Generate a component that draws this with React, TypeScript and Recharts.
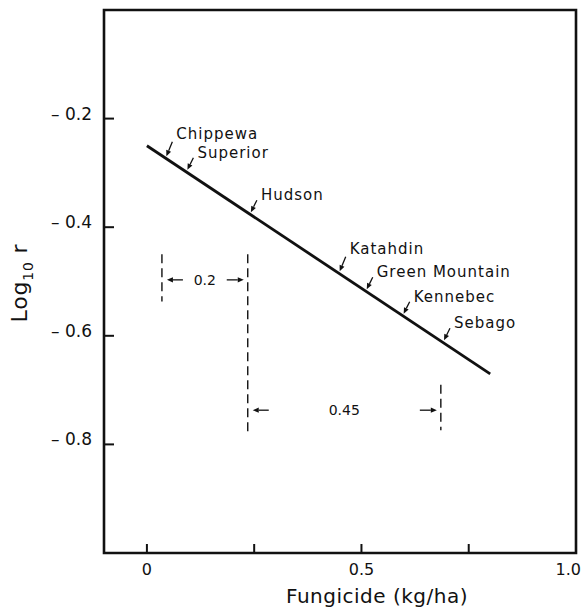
import React from 'react'
import {
  ComposedChart,
  Line,
  Scatter,
  XAxis,
  YAxis,
  ReferenceArea,
  ReferenceLine,
} from 'recharts'

// fitted regression line (end points)
const lineX = [0, 0.8]
const lineY = [-0.25, -0.67]

// potato varieties marked along the line
const varieties = ['Chippewa', 'Superior', 'Hudson', 'Katahdin', 'Green Mountain', 'Kennebec', 'Sebago']
const varietyX = [0.043, 0.092, 0.24, 0.447, 0.51, 0.596, 0.69]
const varietyY = [-0.273, -0.298, -0.376, -0.485, -0.518, -0.563, -0.612]

// dashed guide lines for the dimension marks
const guideX = [0.035, 0.235, 0.685]
const guideTop = [-0.45, -0.45, -0.69]
const guideBottom = [-0.537, -0.78, -0.774]

// dimension spans (between guide i and i+1)
const spanLabels = ['0.2', '0.45']
const spanY = [-0.497, -0.737]

const xTicks = [0, 0.25, 0.5, 0.75, 1.0]
const xTickLabels: Record<string, string> = { '0': '0', '0.5': '0.5', '1': '1.0' }
const yTicks = [-0.8, -0.6, -0.4, -0.2]

const FONT = '"DejaVu Sans", sans-serif'
const INK = '#111'
const raised = ['Chippewa', 'Katahdin']

const lineData = lineX.map((x, i) => ({ x, y: lineY[i] }))
const varietyData = varieties.map((name, i) => ({ name, x: varietyX[i], y: varietyY[i] }))

function arrow(x1: number, y1: number, x2: number, y2: number, key?: string) {
  const ang = Math.atan2(y2 - y1, x2 - x1)
  const len = 6
  const hw = 2.6
  const bx = x2 - len * Math.cos(ang)
  const by = y2 - len * Math.sin(ang)
  const px = -Math.sin(ang) * hw
  const py = Math.cos(ang) * hw
  return (
    <g key={key}>
      <line x1={x1} y1={y1} x2={bx} y2={by} stroke={INK} strokeWidth={1.3} />
      <polygon points={`${x2},${y2} ${bx + px},${by + py} ${bx - px},${by - py}`} fill={INK} />
    </g>
  )
}

const VarietyMark = (props: any) => {
  const { cx, cy, payload } = props
  const lift = raised.includes(payload.name) ? 5 : 0
  return (
    <g>
      {arrow(cx + 7, cy - 14 - lift / 2, cx + 1, cy - 2)}
      <text
        x={cx + 11}
        y={cy - 14 - lift}
        fontFamily={FONT}
        fontSize={15}
        letterSpacing={1}
        fill={INK}
      >
        {payload.name}
      </text>
    </g>
  )
}

const spanShape = (label: string) => (props: any) => {
  const { x1, x2, y1 } = props
  const mid = (x1 + x2) / 2
  return (
    <g>
      {arrow(x1 + 21, y1, x1 + 5, y1)}
      {arrow(x2 - 21, y1, x2 - 4, y1)}
      <text x={mid} y={y1 + 5} textAnchor="middle" fontFamily={FONT} fontSize={14} fill={INK}>
        {label}
      </text>
    </g>
  )
}

const BottomTick = (props: any) => {
  const { x, y, payload } = props
  const label = xTickLabels[String(payload.value)] ?? ''
  const atEdge = payload.value === 1
  return (
    <g>
      <line x1={x} y1={y} x2={x} y2={y - 9} stroke={INK} strokeWidth={2} />
      <text
        x={atEdge ? 581 : x}
        y={y + 22}
        textAnchor={atEdge ? 'end' : 'middle'}
        fontFamily={FONT}
        fontSize={16}
        fill={INK}
      >
        {label}
      </text>
    </g>
  )
}

const LeftTick = (props: any) => {
  const { x, y, payload } = props
  return (
    <g>
      <line x1={x} y1={y} x2={x + 10} y2={y} stroke={INK} strokeWidth={2} />
      <text x={x - 12} y={y + 1} textAnchor="end" fontFamily={FONT} fontSize={17} fill={INK}>
        {'\u2013 ' + Math.abs(payload.value).toFixed(1)}
      </text>
    </g>
  )
}

const RightTick = (props: any) => {
  const { x, y } = props
  return <line x1={x} y1={y} x2={x - 10} y2={y} stroke={INK} strokeWidth={2} />
}

const XTitle = (props: any) => {
  const { viewBox } = props
  return (
    <text
      x={viewBox.x + viewBox.width / 2 + 37}
      y={603}
      textAnchor="middle"
      fontFamily={FONT}
      fontSize={20}
      letterSpacing={0.5}
      fill={INK}
    >
      Fungicide (kg/ha)
    </text>
  )
}

const YTitle = () => (
  <text
    transform="translate(27, 283) rotate(-90)"
    textAnchor="middle"
    fontFamily={FONT}
    fontSize={22}
    letterSpacing={0.8}
    fill={INK}
  >
    Log
    <tspan fontSize={14} dy={6}>10</tspan>
    <tspan dy={-6}> r</tspan>
  </text>
)

export default function App() {
  return (
    <div style={{ position: 'absolute', left: 0, top: 0, background: '#fff' }}>
      <ComposedChart
        width={582}
        height={614}
        margin={{ top: 10, right: 0, bottom: 0, left: 0 }}
      >
        <XAxis
          dataKey="x"
          type="number"
          domain={[-0.1, 1.0]}
          ticks={xTicks}
          interval={0}
          height={61}
          axisLine={false}
          tickLine={false}
          tickSize={0}
          tickMargin={0}
          tick={<BottomTick />}
          label={<XTitle />}
        />
        <YAxis
          dataKey="y"
          type="number"
          domain={[-1.0, 0]}
          ticks={yTicks}
          interval={0}
          width={104}
          axisLine={false}
          tickLine={false}
          tickSize={0}
          tickMargin={0}
          tick={<LeftTick />}
          label={<YTitle />}
        />
        <YAxis
          yAxisId="r"
          orientation="right"
          type="number"
          domain={[-1.0, 0]}
          ticks={yTicks}
          interval={0}
          width={6}
          axisLine={false}
          tickLine={false}
          tickSize={0}
          tickMargin={0}
          tick={<RightTick />}
        />
        <ReferenceArea
          x1={-0.1}
          x2={1.0}
          y1={-1.0}
          y2={0}
          fill="none"
          stroke={INK}
          strokeWidth={2.6}
          fillOpacity={0}
          ifOverflow="visible"
        />
        {guideX.map((gx, i) => (
          <ReferenceLine
            key={'g' + i}
            segment={[
              { x: gx, y: guideTop[i] },
              { x: gx, y: guideBottom[i] },
            ]}
            stroke={INK}
            strokeWidth={1.4}
            strokeDasharray="9 5"
          />
        ))}
        {spanLabels.map((lab, i) => (
          <ReferenceLine
            key={'s' + i}
            segment={[
              { x: guideX[i], y: spanY[i] },
              { x: guideX[i + 1], y: spanY[i] },
            ]}
            stroke="none"
            shape={spanShape(lab)}
          />
        ))}
        <Line
          data={lineData}
          dataKey="y"
          stroke={INK}
          strokeWidth={2.8}
          dot={false}
          activeDot={false}
          isAnimationActive={false}
        />
        <Scatter
          data={varietyData}
          dataKey="y"
          shape={<VarietyMark />}
          isAnimationActive={false}
        />
      </ComposedChart>
    </div>
  )
}
